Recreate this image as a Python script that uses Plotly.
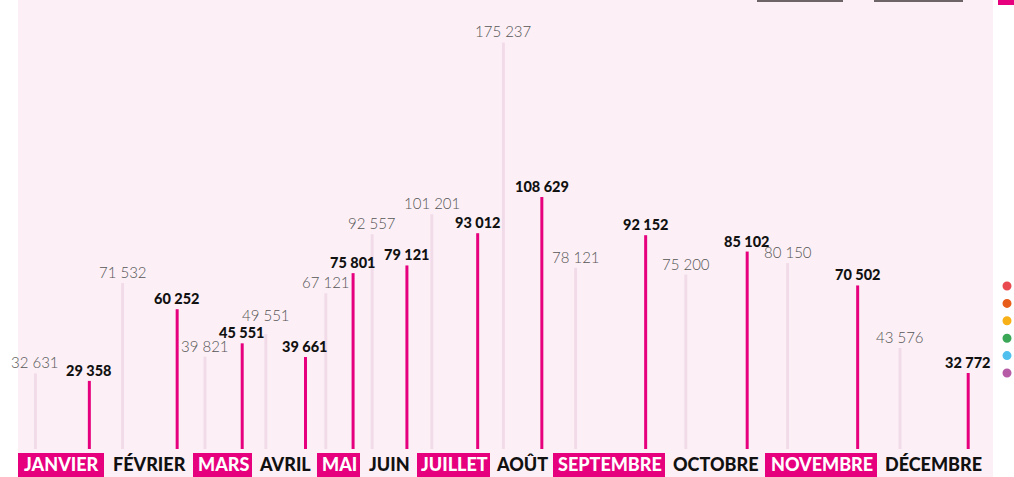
import plotly.graph_objects as go

# ---------------- data ----------------
months = ["JANVIER", "FÉVRIER", "MARS", "AVRIL", "MAI", "JUIN",
          "JUILLET", "AOÛT", "SEPTEMBRE", "OCTOBRE", "NOVEMBRE", "DÉCEMBRE"]
previous_year = [32631, 71532, 39821, 49551, 67121, 92557,
                 101201, 175237, 78121, 75200, 80150, 43576]
current_year = [29358, 60252, 45551, 39661, 75801, 79121,
                93012, 108629, 92152, 85102, 70502, 32772]
highlighted = [True, False, True, False, True, False,
               True, False, True, False, True, False]
dot_colors = ["#e84a4f", "#e85c1a", "#f7b015", "#3aa757", "#4fc0ee", "#b65ba6"]

# ---------------- layout constants ----------------
W, H = 1014, 477
BOTTOM = 28                      # label row height under the baseline
PLOT_H = H - BOTTOM
PX_PER_UNIT = 0.00232
slot_widths = [87, 88, 60, 64, 44, 56, 74, 62, 113, 99, 113, 110]
slot_start = 18
FAINT_FRAC, BOLD_FRAC = 0.20, 0.82
prev_label_nudge = {3: 8}        # extra upward shift (px) to avoid a collision

MAGENTA = "#e6007e"
PANEL = "#fcf0f6"
FAINT = "#f2dbe8"

lefts = []
cur = slot_start
for w in slot_widths:
    lefts.append(cur)
    cur += w
x_prev = [l + FAINT_FRAC * w for l, w in zip(lefts, slot_widths)]
x_cur = [l + BOLD_FRAC * w for l, w in zip(lefts, slot_widths)]


def stems(xs, ys):
    sx, sy = [], []
    for x, y in zip(xs, ys):
        sx += [x, x, None]
        sy += [0, y, None]
    return sx, sy


def fmt(v):
    return f"{v:,}".replace(",", " ")


def py_to_paper(py):
    return (PLOT_H - py) / PLOT_H


fig = go.Figure()
px_, py_ = stems(x_prev, previous_year)
fig.add_trace(go.Scatter(x=px_, y=py_, mode="lines",
                         line=dict(color=FAINT, width=3), hoverinfo="skip",
                         showlegend=False))
cx_, cy_ = stems(x_cur, current_year)
fig.add_trace(go.Scatter(x=cx_, y=cy_, mode="lines",
                         line=dict(color=MAGENTA, width=3), hoverinfo="skip",
                         showlegend=False))

annotations = []
for i, (x, v) in enumerate(zip(x_prev, previous_year)):
    annotations.append(dict(x=x, y=v, xref="x", yref="y", text=fmt(v),
                            showarrow=False, yanchor="bottom",
                            yshift=prev_label_nudge.get(i, 0),
                            font=dict(family="Lato", size=15, color="#555555",
                                      weight=300)))
for x, v in zip(x_cur, current_year):
    annotations.append(dict(x=x, y=v, xref="x", yref="y", text=fmt(v),
                            showarrow=False, yanchor="bottom", yshift=0,
                            font=dict(family="Lato", size=14.5, color="#111111",
                                      weight=900)))

shapes = [
    # panel background
    dict(type="rect", xref="x", yref="paper", x0=slot_start, x1=993,
         y0=py_to_paper(H), y1=1, fillcolor=PANEL, line_width=0, layer="below"),
    # remnants of the header at the top
    dict(type="rect", xref="x", yref="paper", x0=757, x1=843,
         y0=py_to_paper(2), y1=1, fillcolor="#6d6468", line_width=0),
    dict(type="rect", xref="x", yref="paper", x0=874, x1=963,
         y0=py_to_paper(2), y1=1, fillcolor="#6d6468", line_width=0),
    dict(type="rect", xref="x", yref="paper", x0=998, x1=1014,
         y0=py_to_paper(5), y1=1, fillcolor=MAGENTA, line_width=0),
]

for name, l, w, hl in zip(months, lefts, slot_widths, highlighted):
    if hl:
        shapes.append(dict(type="rect", xref="x", yref="paper", x0=l, x1=l + w - 1,
                           y0=py_to_paper(H), y1=py_to_paper(PLOT_H + 4),
                           fillcolor=MAGENTA, line_width=0))
    annotations.append(dict(x=l + w / 2, y=py_to_paper(PLOT_H + 15), xref="x",
                            yref="paper", text=name, showarrow=False,
                            yanchor="middle", xanchor="center",
                            font=dict(family="Lato", size=18,
                                      color="#ffffff" if hl else "#111111",
                                      weight=900)))

for i, c in enumerate(dot_colors):
    cy = 286 + i * 17.4
    shapes.append(dict(type="circle", xref="x", yref="paper",
                       x0=1007 - 4.5, x1=1007 + 4.5,
                       y0=py_to_paper(cy + 4.5), y1=py_to_paper(cy - 4.5),
                       fillcolor=c, line_width=0))

fig.update_layout(
    width=W, height=H,
    margin=dict(l=0, r=0, t=0, b=BOTTOM),
    paper_bgcolor="white", plot_bgcolor="white",
    xaxis=dict(range=[0, W], visible=False, fixedrange=True),
    yaxis=dict(range=[0, PLOT_H / PX_PER_UNIT], visible=False, fixedrange=True),
    annotations=annotations, shapes=shapes,
    showlegend=False,
)

fig.write_html("out.html", config={"displayModeBar": False},
               post_script="document.body.style.margin='0';"
                           "document.body.style.overflow='hidden';")
